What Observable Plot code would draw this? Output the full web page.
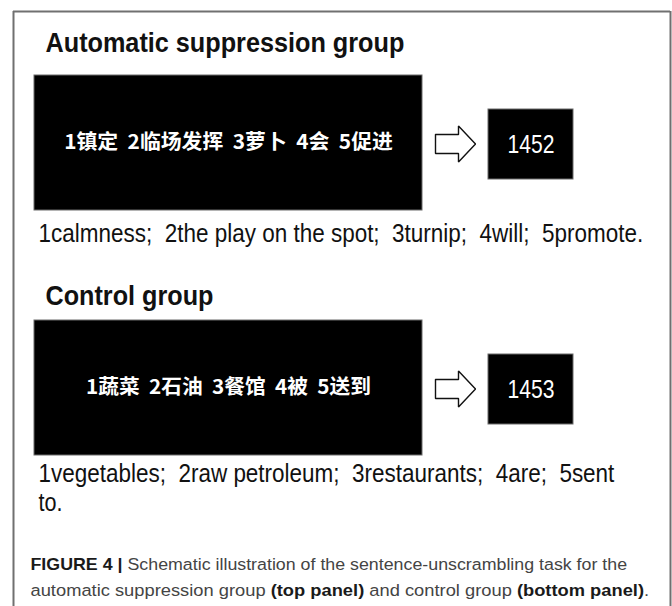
<!DOCTYPE html>
<html><head><meta charset="utf-8">
<script src="https://cdn.jsdelivr.net/npm/d3@7"></script>
<script src="https://cdn.jsdelivr.net/npm/@observablehq/plot@0.6"></script>
<style>
html,body{margin:0;padding:0;background:#fff;}
</style></head><body><div id="chart"></div>
<script>
// ---------------- content ----------------
const groupTitles = ["Automatic suppression group", "Control group"];
const chineseWords = [
  ["镇定", "临场发挥", "萝卜", "会", "促进"],
  ["蔬菜", "石油", "餐馆", "被", "送到"]
];
const englishLines = [
  ["1calmness;  2the play on the spot;  3turnip;  4will;  5promote."],
  ["1vegetables;  2raw petroleum;  3restaurants;  4are;  5sent", "to."]
];
const answerCodes = ["1452", "1453"];
const captionLines = [
  "**FIGURE 4 |** Schematic illustration of the sentence-unscrambling task for the",
  "automatic suppression group **(top panel)** and control group **(bottom panel)**."
];

// ---------------- layout (pixel space of the schematic) ----------------
const W = 672, H = 606;
const L = {
  frame: {left: 13, right: 670, top: 11, bottom: H},
  step: 245,
  titleX: 45, titleY: [43, 296],
  box: {x1: 34, x2: 422, y1: 75, y2: 210},
  code: {x1: 488, x2: 573, y1: 109, y2: 179},
  arrow: {x0: 435, neck: 458, tip: 475, shaft: 9.5, head: 18},
  engX: 38, engY: [233, 473], engLH: 29,
  capX: 30, capY: [564, 590]
};
const NARROW = "'Liberation Sans Narrow', 'Arial Narrow', 'Liberation Sans', Arial, sans-serif";
const CJK = "'Noto Sans CJK SC', 'Noto Sans CJK TC', sans-serif";

const panels = groupTitles.map((title, i) => ({
  i, title, off: i * L.step,
  words: chineseWords[i].map((w, k) => `${k + 1}${w}`).join("  "),
  code: answerCodes[i]
}));
const engRows = panels.flatMap(p => englishLines[p.i].map((line, j) => ({i: p.i, j, line})));
const capRows = captionLines.map((line, j) => ({j, line}));
const arrowPts = panels.flatMap(p => {
  const a = L.arrow, c = (L.code.y1 + L.code.y2) / 2 + p.off - 0.5;
  return [[a.x0, c - a.shaft], [a.neck, c - a.shaft], [a.neck, c - a.head], [a.tip, c],
          [a.neck, c + a.head], [a.neck, c + a.shaft], [a.x0, c + a.shaft], [a.x0, c - a.shaft]]
    .map(([x, y]) => ({x, y, i: p.i}));
});

// target rendered widths, to mimic the condensed face of the original
const targetWidth = new Map([
  [groupTitles[0], 359], [groupTitles[1], 168],
  [englishLines[0][0], 605], [englishLines[1][0], 576], [englishLines[1][1], 24],
  [answerCodes[0], 47], [answerCodes[1], 47],
  [captionLines[0].replaceAll("**", ""), 597], [captionLines[1].replaceAll("**", ""), 619],
  [panels[0].words, 329], [panels[1].words, 285]
]);

const chart = Plot.plot({
  width: W, height: H,
  margin: 0,
  x: {domain: [0, W], range: [0, W], axis: null},
  y: {domain: [0, H], range: [0, H], axis: null},
  marks: [
    // outer frame (open at bottom)
    Plot.ruleY([L.frame.top], {x1: L.frame.left, x2: L.frame.right, stroke: "#707070", strokeWidth: 2}),
    Plot.ruleX([L.frame.left, L.frame.right], {y1: L.frame.top, y2: L.frame.bottom, stroke: "#707070", strokeWidth: 2}),
    // group titles
    Plot.text(panels, {x: L.titleX, y: p => L.titleY[p.i], text: "title", textAnchor: "start",
      lineAnchor: "middle", fontSize: 28, fontWeight: "bold", fontFamily: NARROW, fill: "#111"}),
    // stimulus screens
    Plot.rect(panels, {x1: () => L.box.x1, x2: () => L.box.x2, y1: p => L.box.y1 + p.off, y2: p => L.box.y2 + p.off,
      fill: "#000", stroke: "#6a6a6a", strokeWidth: 1}),
    Plot.text(panels, {x: (L.box.x1 + L.box.x2) / 2, y: p => (L.box.y1 + L.box.y2) / 2 + p.off, text: "words",
      lineAnchor: "middle", fontSize: 20, fontWeight: "bold", fontFamily: CJK, fill: "#fff"}),
    // arrows
    Plot.line(arrowPts, {x: "x", y: "y", z: "i", stroke: "#111", strokeWidth: 1.4, fill: "#fff", strokeLinejoin: "miter"}),
    // answer screens
    Plot.rect(panels, {x1: () => L.code.x1, x2: () => L.code.x2, y1: p => L.code.y1 + p.off, y2: p => L.code.y2 + p.off,
      fill: "#000", stroke: "#6a6a6a", strokeWidth: 1}),
    Plot.text(panels, {x: (L.code.x1 + L.code.x2) / 2, y: p => (L.code.y1 + L.code.y2) / 2 + p.off, text: "code",
      lineAnchor: "middle", fontSize: 26, fontFamily: NARROW, fill: "#fff"}),
    // English glosses
    Plot.text(engRows, {x: L.engX, y: r => L.engY[r.i] + r.j * L.engLH, text: "line", textAnchor: "start",
      lineAnchor: "middle", fontSize: 26, fontFamily: NARROW, fill: "#111"}),
    // caption
    Plot.text(capRows, {x: L.capX, y: r => L.capY[r.j], text: "line", textAnchor: "start",
      lineAnchor: "middle", fontSize: 16.5, fontFamily: NARROW, fill: "#444"})
  ]
});

document.getElementById("chart").appendChild(chart);

// post-process texts: bold runs in the caption, then horizontal condensing
d3.select(chart).selectAll("text").each(function () {
  const el = d3.select(this);
  const s = this.textContent;
  if (s.includes("**")) {
    const parts = s.split("**");
    el.text(null);
    parts.forEach((part, k) => {
      if (!part) return;
      const t = el.append("tspan").text(part);
      if (k % 2 === 1) t.attr("font-weight", "bold").attr("fill", "#1a1a1a");
    });
  }
  const key = this.textContent;
  if (!targetWidth.has(key)) return;
  const natural = this.getComputedTextLength();
  if (!(natural > 0)) return;
  const sx = targetWidth.get(key) / natural;
  const tr = this.getAttribute("transform");
  if (tr) {
    this.setAttribute("transform", `${tr} scale(${sx},1)`);
  } else {
    const x = +(this.getAttribute("x") || 0), y = +(this.getAttribute("y") || 0);
    this.setAttribute("x", 0); this.setAttribute("y", 0);
    this.setAttribute("transform", `translate(${x},${y}) scale(${sx},1)`);
  }
});
</script>
</body></html>
